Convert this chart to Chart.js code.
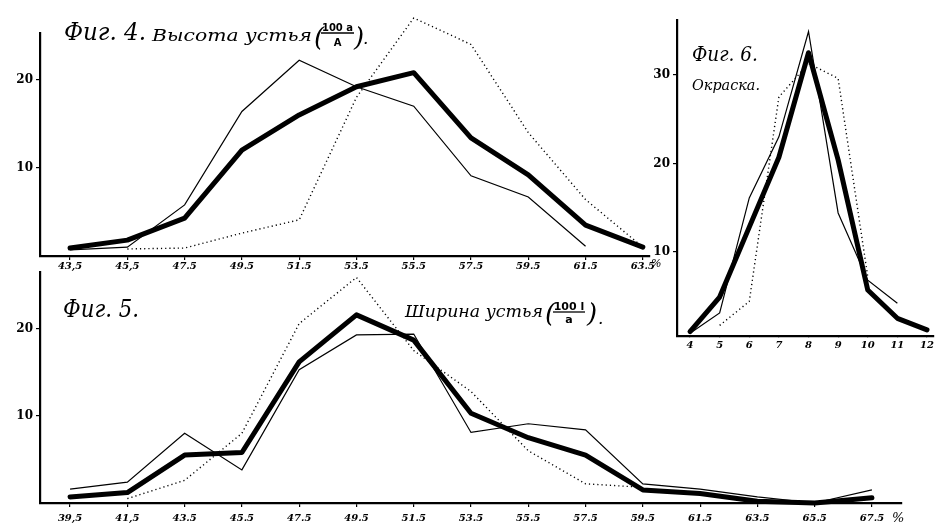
<!DOCTYPE html>
<html>
<head>
<meta charset="utf-8">
<script src="https://cdn.jsdelivr.net/npm/chart.js@4/dist/chart.umd.min.js"></script>
<style>
  body { margin: 0; background: #fff; width: 937px; height: 525px; position: relative; overflow: hidden; }
  .box { position: absolute; }
</style>
</head>
<body>
<div class="box" style="left:0;top:0;width:670px;height:275px"><canvas id="fig4"></canvas></div>
<div class="box" style="left:0;top:262px;width:937px;height:263px"><canvas id="fig5"></canvas></div>
<div class="box" style="left:640px;top:0;width:297px;height:350px"><canvas id="fig6"></canvas></div>
<script>
// Фиг. 4 — высота устья
const fig4X = [43.5, 45.5, 47.5, 49.5, 51.5, 53.5, 55.5, 57.5, 59.5, 61.5, 63.5];
const fig4Labels = ['43,5', '45,5', '47.5', '49.5', '51.5', '53.5', '55.5', '57.5', '59.5', '61.5', '63.5'];
const fig4Thick = [0.9, 1.8, 4.3, 12.0, 16.0, 19.2, 20.8, 13.4, 9.2, 3.5, 1.0];
const fig4Thin = [0.7, 1.0, 5.8, 16.4, 22.2, 19.2, 17.0, 9.1, 6.7, 1.1, null];
const fig4Dotted = [null, 0.8, 0.9, 2.6, 4.1, 18.0, 27.0, 24.0, 14.0, 6.4, 1.0];
const fig4YTicks = [10, 20];

// Фиг. 5 — ширина устья
const fig5X = [39.5, 41.5, 43.5, 45.5, 47.5, 49.5, 51.5, 53.5, 55.5, 57.5, 59.5, 61.5, 63.5, 65.5, 67.5];
const fig5Labels = ['39,5', '41,5', '43.5', '45.5', '47.5', '49.5', '51.5', '53.5', '55.5', '57.5', '59.5', '61.5', '63.5', '65.5', '67.5'];
const fig5Thick = [0.7, 1.2, 5.5, 5.8, 16.2, 21.6, 18.7, 10.3, 7.5, 5.5, 1.5, 1.1, 0.2, 0, 0.6];
const fig5Thin = [1.6, 2.4, 8.0, 3.8, 15.3, 19.3, 19.4, 8.1, 9.1, 8.4, 2.2, 1.6, 0.7, 0, 1.5];
const fig5Dotted = [null, 0.5, 2.6, 8.0, 20.6, 25.9, 17.5, 12.8, 6.0, 2.2, 1.8, null, null, null, null];
const fig5YTicks = [10, 20];

// Фиг. 6 — окраска
const fig6X = [4, 5, 6, 7, 8, 9, 10, 11, 12];
const fig6Labels = ['4', '5', '6', '7', '8', '9', '10', '11', '12'];
const fig6Thick = [1.0, 4.9, 12.8, 20.7, 32.5, 20.4, 5.7, 2.5, 1.2];
const fig6Thin = [0.8, 3.1, 16.1, 23.0, 34.9, 14.4, 6.8, 4.2, null];
const fig6Dotted = [null, 1.7, 4.4, 27.5, 31.3, 29.6, 7.2, null, null];
const fig6YTicks = [10, 20, 30];

// подписи рисуем прямо на холсте
const notesPlugin = {
  id: 'notes',
  afterDraw(chart, args, opts) {
    const ctx = chart.ctx;
    (opts.items || []).forEach(n => {
      ctx.save();
      ctx.fillStyle = '#000';
      ctx.strokeStyle = '#000';
      ctx.font = n.font;
      ctx.textBaseline = 'alphabetic';
      if (n.frac) {
        const w = n.w;
        ctx.textAlign = 'center';
        ctx.fillText(n.frac[0], n.x + w / 2, n.y - 2);
        ctx.fillText(n.frac[1], n.x + w / 2, n.y + n.dh);
        ctx.beginPath();
        ctx.moveTo(n.x, n.y);
        ctx.lineTo(n.x + w, n.y);
        ctx.lineWidth = 1.3;
        ctx.stroke();
      } else {
        const mw = ctx.measureText(n.text).width;
        ctx.translate(n.x, n.y);
        if (n.w) ctx.scale(n.w / mw, 1);
        ctx.fillText(n.text, 0, 0);
      }
      ctx.restore();
    });
  }
};

const tickFont = { family: 'DejaVu Serif', style: 'italic', weight: 'bold', size: 10 };

function makeChart(id, xs, labels, thick, thin, dotted, cfg) {
  const pts = arr => xs.map((x, i) => ({ x: x, y: arr[i] }));
  new Chart(document.getElementById(id), {
    type: 'line',
    data: {
      datasets: [
        { data: pts(dotted), borderColor: '#000', borderWidth: 1.4, borderDash: [1.2, 3], pointRadius: 0, tension: 0, clip: false },
        { data: pts(thin), borderColor: '#000', borderWidth: 1.2, pointRadius: 0, tension: 0, clip: false },
        { data: pts(thick), borderColor: '#000', borderWidth: 5, borderJoinStyle: 'round', borderCapStyle: 'round', pointRadius: 0, tension: 0, clip: false }
      ]
    },
    options: {
      responsive: true,
      maintainAspectRatio: false,
      animation: false,
      layout: { padding: cfg.padding },
      plugins: {
        legend: { display: false },
        tooltip: { enabled: false },
        notes: { items: cfg.notes }
      },
      scales: {
        x: {
          type: 'linear',
          min: cfg.xMin,
          max: cfg.xMax,
          afterBuildTicks: s => { s.ticks = xs.map(v => ({ value: v })); },
          afterFit: s => { s.height = cfg.xHeight; },
          ticks: {
            color: '#000',
            font: tickFont,
            padding: cfg.xPad,
            maxRotation: 0,
            autoSkip: false,
            callback: v => labels[xs.indexOf(v)]
          },
          grid: { display: true, drawOnChartArea: false, tickLength: cfg.xTick, color: '#000', lineWidth: 1.2 },
          border: { display: true, color: '#000', width: 2.2 }
        },
        y: {
          min: cfg.yMin,
          max: cfg.yMax,
          afterBuildTicks: s => { s.ticks = cfg.yTicks.map(v => ({ value: v })); },
          afterFit: s => { s.width = cfg.yWidth; },
          ticks: { color: '#000', font: { family: 'DejaVu Serif', weight: 'bold', size: 12 }, padding: 3 },
          grid: { display: true, drawOnChartArea: false, tickLength: 4, color: '#000', lineWidth: 1.2 },
          border: { display: true, color: '#000', width: 2.2 }
        }
      }
    },
    plugins: [notesPlugin]
  });
}

const big = 'italic 24px "DejaVu Serif"';
const mid = 'italic 17px "DejaVu Serif"';
const sml = 'italic 11px "DejaVu Serif"';

makeChart('fig4', fig4X, fig4Labels, fig4Thick, fig4Thin, fig4Dotted, {
  padding: { left: 0, top: 33, right: 20, bottom: 0 },
  xMin: 42.45, xMax: 63.75, yMin: 0, yMax: 25.3,
  yTicks: fig4YTicks, yWidth: 40, xHeight: 19, xPad: 0, xTick: 4,
  notes: [
    { text: 'Фиг. 4.', x: 64, y: 40, font: big, w: 82 },
    { text: 'Высота устья', x: 152, y: 41, font: mid, w: 160 },
    { text: '(', x: 314, y: 46, font: 'italic 26px "DejaVu Serif"' },
    { frac: ['100 a', 'A'], x: 321, y: 33, w: 33, dh: 13, font: 'bold 10px "DejaVu Sans"' },
    { text: ')', x: 354, y: 46, font: 'italic 26px "DejaVu Serif"' },
    { text: '.', x: 363, y: 44, font: mid },
    { text: '%', x: 651, y: 267, font: sml }
  ]
});

makeChart('fig5', fig5X, fig5Labels, fig5Thick, fig5Thin, fig5Dotted, {
  padding: { left: 0, top: 8, right: 35, bottom: 0 },
  xMin: 38.45, xMax: 68.55, yMin: 0, yMax: 26.5,
  yTicks: fig5YTicks, yWidth: 40, xHeight: 22, xPad: 5, xTick: 4,
  notes: [
    { text: 'Фиг. 5.', x: 63, y: 55, font: big, w: 76 },
    { text: 'Ширина устья', x: 405, y: 55, font: mid, w: 138 },
    { text: '(', x: 545, y: 60, font: 'italic 26px "DejaVu Serif"' },
    { frac: ['100 l', 'a'], x: 553, y: 50, w: 32, dh: 11, font: 'bold 11px "DejaVu Sans"' },
    { text: ')', x: 587, y: 60, font: 'italic 26px "DejaVu Serif"' },
    { text: '.', x: 598, y: 62, font: mid },
    { text: '%', x: 892, y: 260, font: 'italic 13px "DejaVu Serif"' }
  ]
});

makeChart('fig6', fig6X, fig6Labels, fig6Thick, fig6Thin, fig6Dotted, {
  padding: { left: 0, top: 20, right: 2, bottom: 0 },
  xMin: 3.56, xMax: 12.24, yMin: 0.5, yMax: 36.2,
  yTicks: fig6YTicks, yWidth: 37, xHeight: 14, xPad: 3, xTick: 0,
  notes: [
    { text: 'Фиг. 6.', x: 52, y: 61, font: 'italic 21px "DejaVu Serif"', w: 66 },
    { text: 'Окраска.', x: 52, y: 90, font: 'italic 14px "DejaVu Serif"', w: 68 }
  ]
});
</script>
</body>
</html>
